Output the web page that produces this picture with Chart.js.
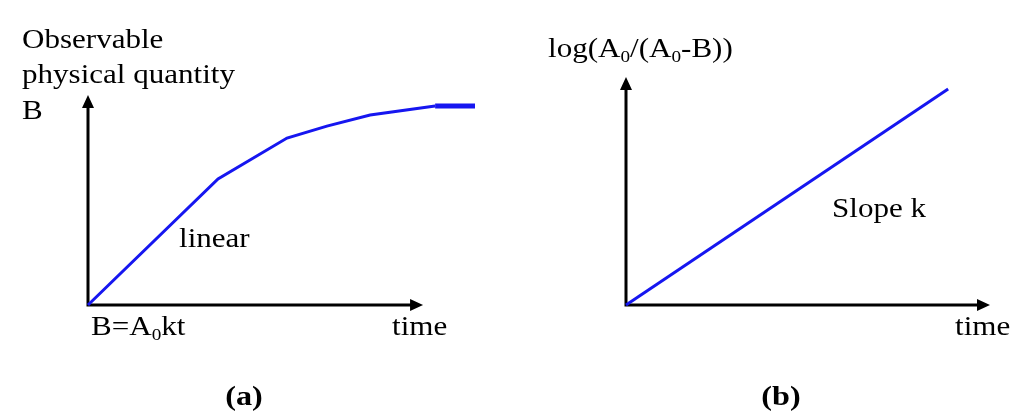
<!DOCTYPE html>
<html>
<head>
<meta charset="utf-8">
<script src="https://cdn.jsdelivr.net/npm/chart.js@4.4.1/dist/chart.umd.min.js"></script>
<style>
  html, body { margin: 0; padding: 0; background: #fff; }
  #wrap { position: relative; width: 1024px; height: 419px; }
  canvas { position: absolute; top: 0; }
</style>
</head>
<body>
<div id="wrap">
  <canvas id="chartA" width="512" height="419" style="left:0"></canvas>
  <canvas id="chartB" width="512" height="419" style="left:512px"></canvas>
</div>
<script>
// ---------- DATA ----------
// panel (a): observable B vs time
const timeA  = [0, 3.88, 5.94, 7.13, 8.42, 10.36, 11.55];
const valueA = [0, 6.0, 7.95, 8.52, 9.05, 9.48, 9.48];
// panel (b): log(A0/(A0-B)) vs time
const timeB  = [0, 8.85];
const valueB = [0, 9.47];
// axis arrow lengths (in data units)
const axisEndA = { x: 10, y: 10 };
const axisEndB = { x: 10, y: 10 };

const BLUE = "#1616f0";
const SX = 1.15; // the original text is a bit stretched sideways
const FONT = '"Liberation Serif", "Times New Roman", serif';

// parts: [[text, isSubscript], ...]
function drawText(ctx, parts, x, y, size, opts = {}) {
    ctx.save();
    ctx.fillStyle = "#000";
    ctx.textBaseline = "alphabetic";
    const w = parts.reduce((a, [s, sub]) => {
        ctx.font = (opts.bold ? "bold " : "") + (sub ? size * 0.62 : size) + "px " + FONT;
        return a + ctx.measureText(s).width;
    }, 0);
    ctx.translate(x, y);
    ctx.scale(SX, 1);
    let cx = opts.center ? -w / 2 : 0;
    parts.forEach(([s, sub]) => {
        ctx.font = (opts.bold ? "bold " : "") + (sub ? size * 0.62 : size) + "px " + FONT;
        ctx.fillText(s, cx, sub ? size * 0.2 : 0);
        cx += ctx.measureText(s).width;
    });
    ctx.restore();
}

function arrowAxes(chart, end) {
    const { ctx, scales: { x, y } } = chart;
    const ox = x.getPixelForValue(0), oy = y.getPixelForValue(0);
    const tx = x.getPixelForValue(end.x), ty = y.getPixelForValue(end.y);
    ctx.save();
    ctx.strokeStyle = "#000";
    ctx.fillStyle = "#000";
    ctx.lineWidth = 3;
    ctx.beginPath();
    ctx.moveTo(ox, oy + 1.5);
    ctx.lineTo(ox, ty + 10);
    ctx.moveTo(ox - 1.5, oy);
    ctx.lineTo(tx - 10, oy);
    ctx.stroke();
    // arrow heads
    ctx.beginPath();
    ctx.moveTo(ox, ty);
    ctx.lineTo(ox - 6, ty + 13);
    ctx.lineTo(ox + 6, ty + 13);
    ctx.closePath();
    ctx.moveTo(tx, oy);
    ctx.lineTo(tx - 13, oy - 6);
    ctx.lineTo(tx - 13, oy + 6);
    ctx.closePath();
    ctx.fill();
    ctx.restore();
}

function makeChart(id, xs, ys, padding, xmax, ymax, decorate, flatEnd) {
    return new Chart(document.getElementById(id), {
        type: "line",
        data: {
            datasets: [{
                data: xs.map((t, i) => ({ x: t, y: ys[i] })),
                borderColor: BLUE,
                borderWidth: 3,
                pointRadius: 0,
                tension: 0,
                fill: false,
                clip: false,
                segment: {
                    borderWidth: c => (flatEnd && c.p1DataIndex === xs.length - 1) ? 5 : 3
                }
            }]
        },
        options: {
            responsive: false,
            animation: false,
            layout: { padding },
            plugins: { legend: { display: false }, tooltip: { enabled: false } },
            scales: {
                x: { type: "linear", display: false, min: 0, max: xmax },
                y: { type: "linear", display: false, min: 0, max: ymax }
            }
        },
        plugins: [{
            id: "decor",
            beforeDatasetsDraw: chart => decorate.axes(chart),
            afterDraw: chart => decorate.text(chart.ctx)
        }]
    });
}

// ---------- PANEL (a) ----------
makeChart("chartA", timeA, valueA,
    { left: 88, right: 37, top: 95, bottom: 114 }, 11.55, 10,
    {
        axes: c => arrowAxes(c, axisEndA),
        text: ctx => {
            drawText(ctx, [["Observable"]], 22, 48, 27);
            drawText(ctx, [["physical quantity"]], 22, 83, 27);
            drawText(ctx, [["B"]], 22, 119, 27);
            drawText(ctx, [["linear"]], 179, 247, 27);
            drawText(ctx, [["B=A"], ["0", true], ["kt"]], 91, 335, 27);
            drawText(ctx, [["time"]], 392, 335, 27);
            drawText(ctx, [["("], ["a"], [")"]], 244, 405, 28, { bold: true, center: true });
        }
    }, true);

// ---------- PANEL (b) ----------
makeChart("chartB", timeB, valueB,
    { left: 114, right: 34, top: 77, bottom: 114 }, 10, 10,
    {
        axes: c => arrowAxes(c, axisEndB),
        text: ctx => {
            drawText(ctx, [["log(A"], ["0", true], ["/(A"], ["0", true], ["-B))"]], 36, 57, 27);
            drawText(ctx, [["Slope k"]], 320, 217, 27);
            drawText(ctx, [["time"]], 443, 335, 27);
            drawText(ctx, [["("], ["b"], [")"]], 269, 405, 28, { bold: true, center: true });
        }
    }, false);
</script>
</body>
</html>
